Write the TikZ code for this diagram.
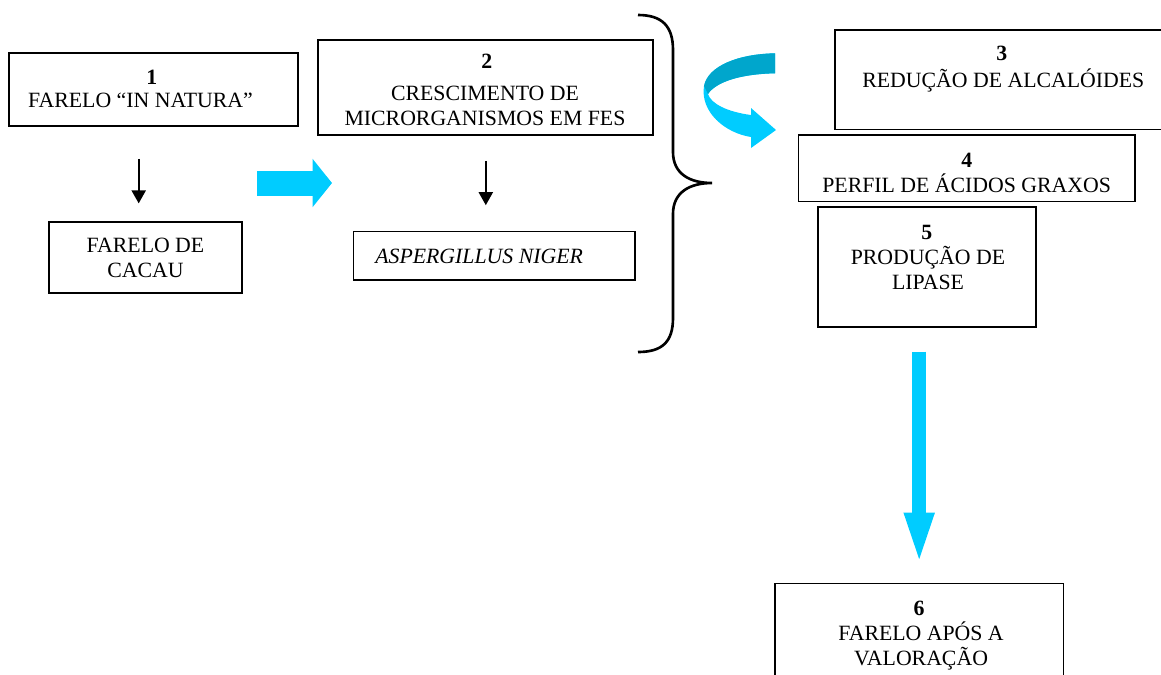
\documentclass[tikz,border=0pt]{standalone}
\usepackage{fontspec}
\setmainfont{Liberation Serif}
\usepackage{tikz}
\usetikzlibrary{positioning}
\usetikzlibrary{arrows.meta}
\definecolor{arrowcyan}{RGB}{0,204,255}
\definecolor{arrowdark}{RGB}{0,166,204}

\begin{document}
\begin{tikzpicture}[x=0.02cm,y=-0.02cm,
        box/.style={draw,line width=1pt,inner sep=0pt},
        txt/.style={font=\fontsize{12.4pt}{14.2pt}\selectfont,align=center,inner sep=0pt,anchor=base},
        num/.style={font=\fontsize{12.4pt}{14.2pt}\selectfont\bfseries,inner sep=0pt,anchor=base},
        thinarrow/.style={line width=1.2pt,-{Triangle[length=2.6mm,width=2.8mm]}},
        bigarrow/.style={draw=arrowcyan,line width=5mm,-{Triangle[length=3.9mm,width=9.5mm]}}]
        \useasboundingbox (0,0) rectangle (1161,674);

        \node[box,minimum width=57.8mm,minimum height=14.6mm] (b1) at (153.5,89.5) {};
        \node[box,minimum width=38.6mm,minimum height=14.3mm] (cacau) at (145.8,257.5) {};
        \node[box,minimum width=67mm,minimum height=19mm] (b2) at (485.8,87.5) {};
        \node[box,minimum width=56.3mm,minimum height=9.7mm] (niger) at (494.2,255.8) {};
        \node[box,minimum width=71mm,minimum height=19.9mm] (b3) at (1012.5,79.7) {};
        \node[box,minimum width=67.3mm,minimum height=13.3mm] (b4) at (966.7,168.3) {};
        \node[box,minimum width=43.5mm,minimum height=24.1mm] (b5) at (927,267) {};
        \node[box,minimum width=57.7mm,minimum height=23.3mm] (b6) at (919.2,641.7) {};

        \node[num] (n1) at (151.7,84) {1};
        \node[txt] (t1) at (140.5,107) {FARELO “IN NATURA”};
        \node[txt] (tcacau) at (145.5,277) {FARELO DE\\CACAU};
        \node[num] (n2) at (486.7,68.7) {2};
        \node[txt] (t2) at (485,125.3) {CRESCIMENTO DE\\MICRORGANISMOS EM FES};
        \node[txt,anchor=base west,font=\fontsize{12.4pt}{14.2pt}\selectfont\itshape] (tniger) at (375,263) {ASPERGILLUS NIGER};
        \node[num] (n3) at (1001.7,60) {3};
        \node[txt] (t3) at (1003.3,87) {REDUÇÃO DE ALCALÓIDES};
        \node[num] (n4) at (966.7,167) {4};
        \node[txt] (t4) at (966.7,192) {PERFIL DE ÁCIDOS GRAXOS};
        \node[num] (n5) at (926.7,239) {5};
        \node[txt] (t5) at (928,289) {PRODUÇÃO DE\\LIPASE};
        \node[num] (n6) at (919,615) {6};
        \node[txt] (t6) at (921,665) {FARELO APÓS A\\VALORAÇÃO};

        \draw[thinarrow,shorten <=6.4mm,shorten >=3.5mm] (b1.south -| 138.7,0) -- (cacau.north -| 138.7,0);
        \draw[thinarrow,shorten <=5mm,shorten >=5.1mm] (b2.south) -- (b2.south |- niger.north);

        \coordinate (rs) at (257,183);
        \coordinate (re) at (332,183);
        \draw[bigarrow] (rs) -- (re);
        \draw[bigarrow,line width=2.8mm,-{Triangle[length=11mm,width=5.2mm]},shorten <=4.7mm,shorten >=3mm] (b5.south -| b6.north) -- (b6.north);

        \draw[line width=1.5pt] (638,15) .. controls (662,15) and (673,26) .. (673,50) -- (673,152)
                .. controls (673,174) and (690,183) .. (712,183)
                .. controls (690,183) and (673,192) .. (673,214) -- (673,318)
                .. controls (673,342) and (662,352) .. (638,352);

        \fill[arrowcyan] (775,53.3) .. controls (738,54) and (708,66) .. (704,86)
                .. controls (700,112) and (725,133) .. (751,137) -- (751,148) -- (776,130) -- (751,108) -- (751,115)
                .. controls (728,112) and (711,104) .. (708,94)
                .. controls (716,82) and (740,74) .. (775,73.3) -- cycle;
        \fill[arrowdark] (775,53.3) .. controls (738,54) and (708,66) .. (704,86) -- (708,94)
                .. controls (716,82) and (740,74) .. (775,73.3) -- cycle;
      \end{tikzpicture}
\end{document}
